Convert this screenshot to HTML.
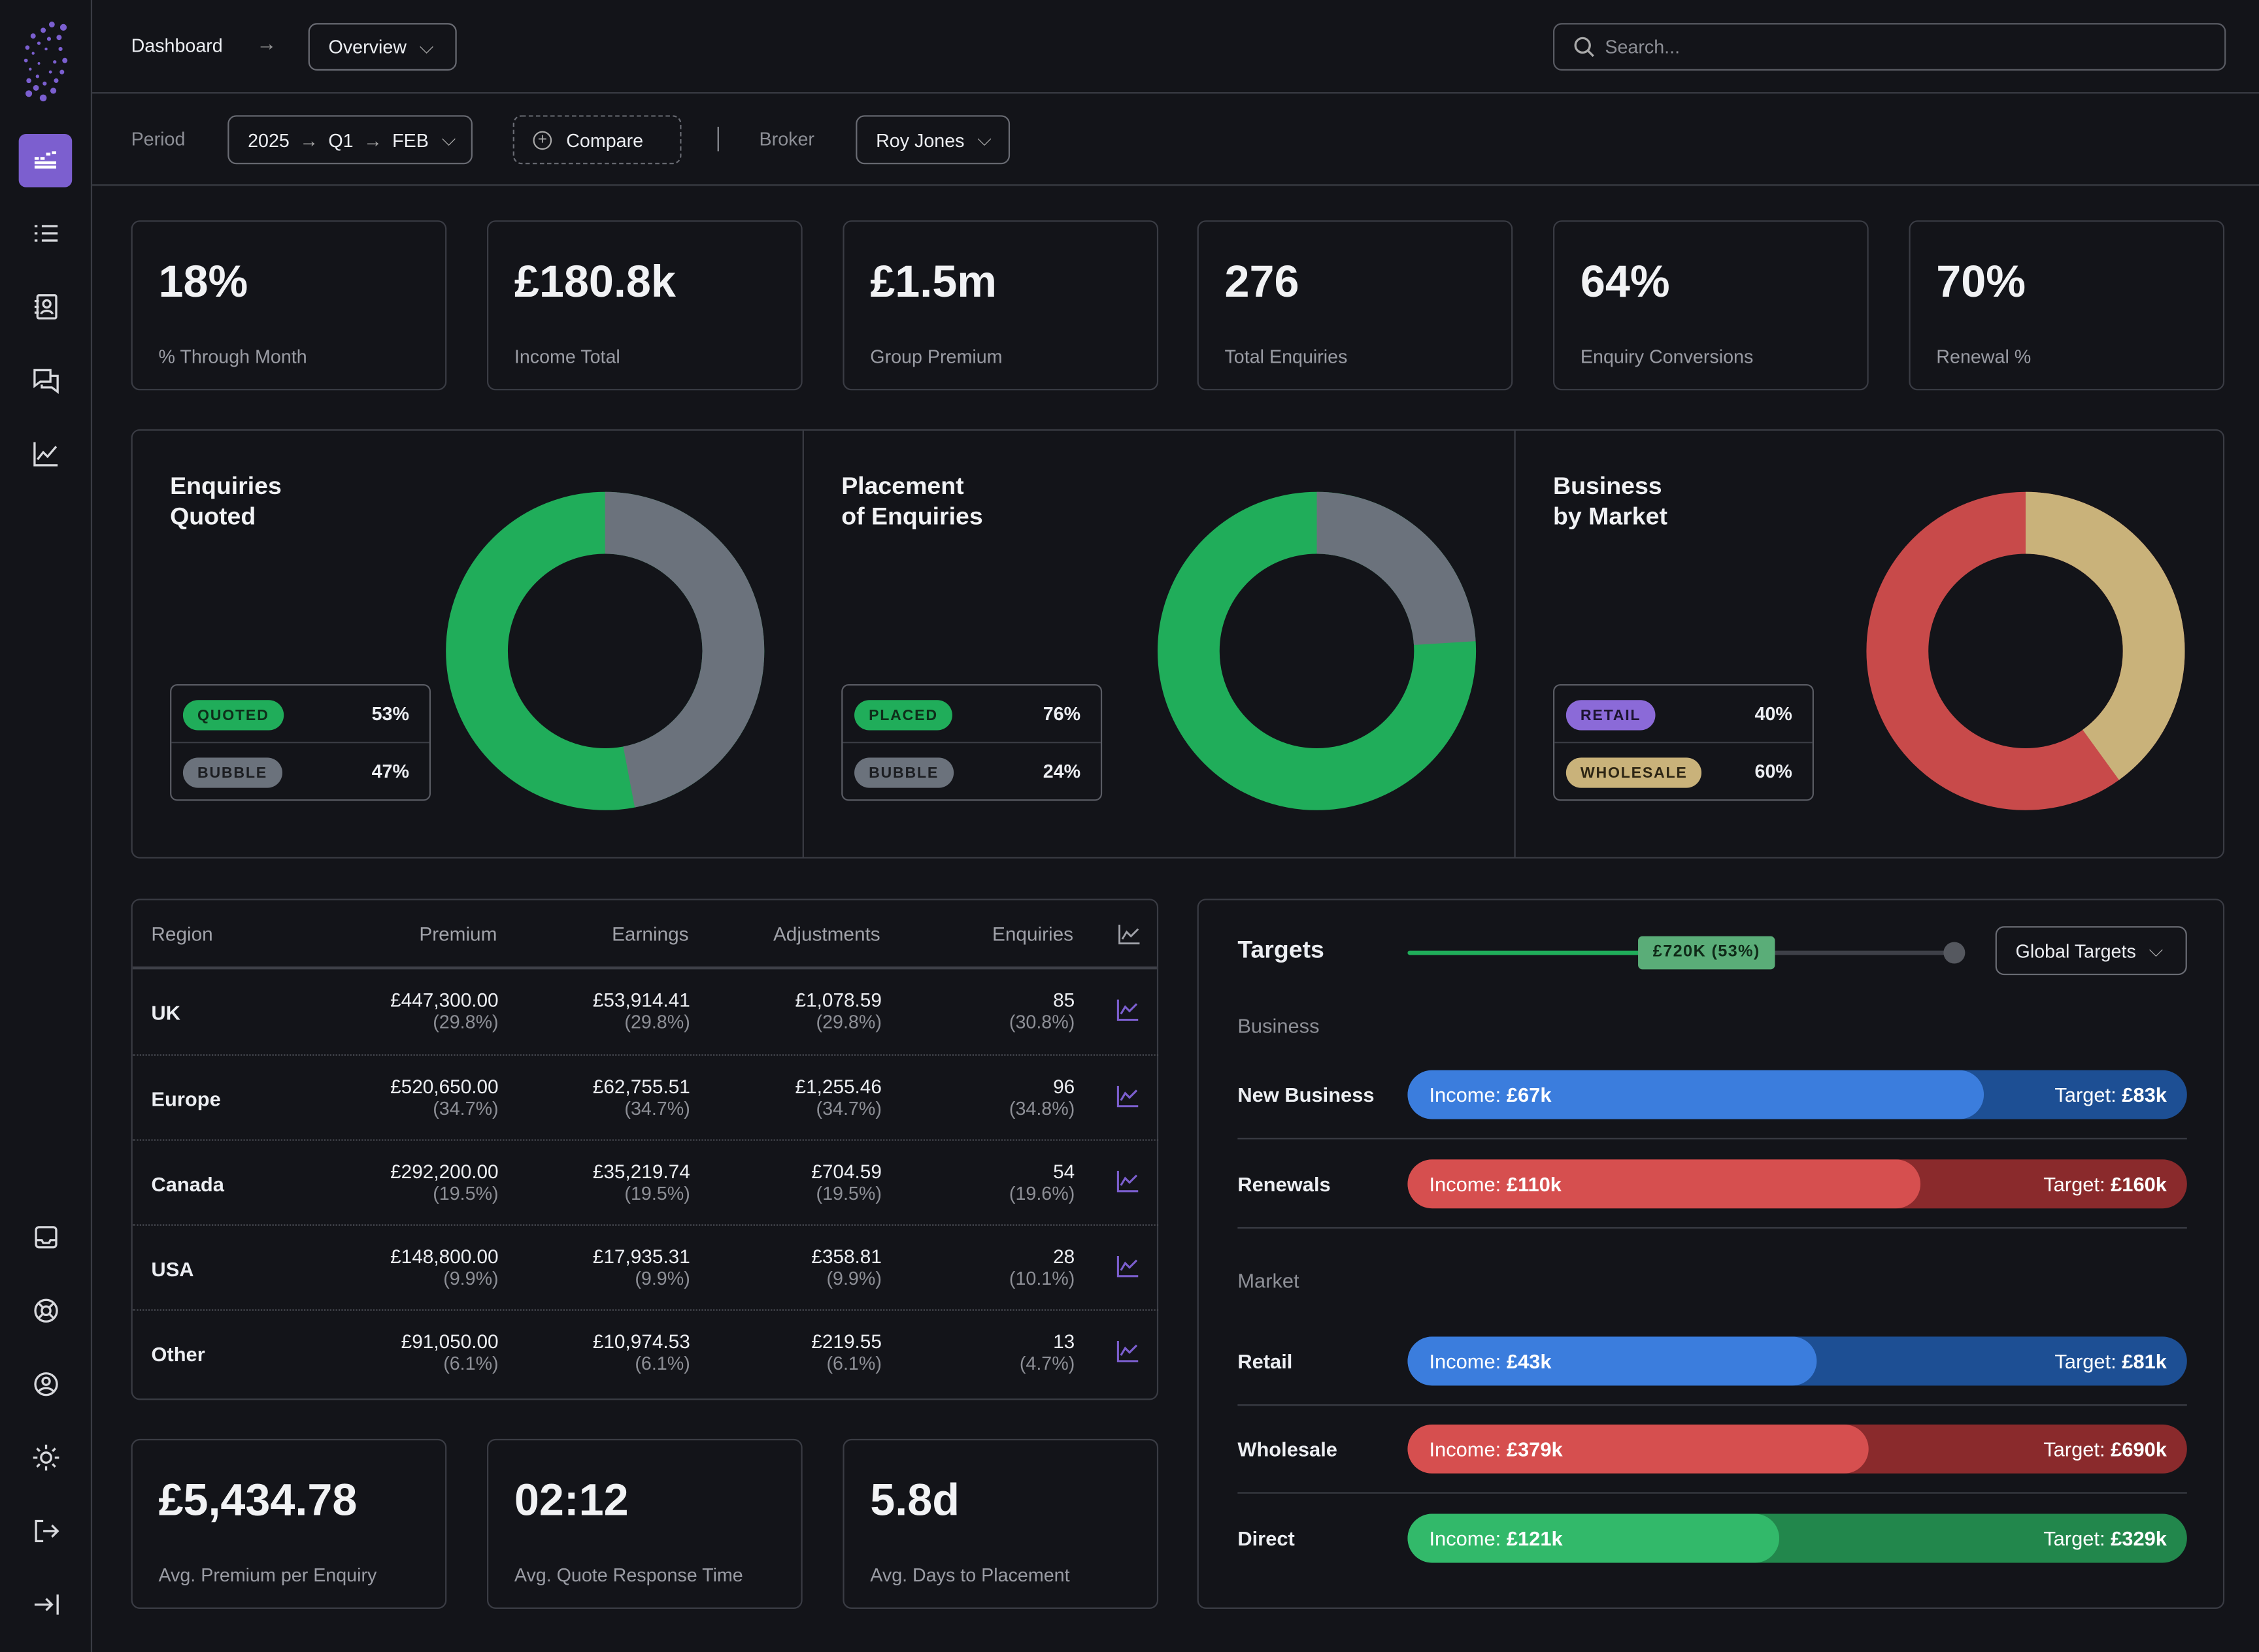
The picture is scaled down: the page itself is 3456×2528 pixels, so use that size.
<!DOCTYPE html>
<html><head><meta charset="utf-8"><style>
*{box-sizing:border-box;margin:0;padding:0}
html,body{width:3456px;height:2528px;background:#131419;overflow:hidden}
#s{position:absolute;left:0;top:0;width:1568px;height:1147px;transform:scale(2.2041);transform-origin:0 0;font-family:"Liberation Sans",sans-serif;color:#eceef2;background:#131419}
.a{position:absolute}
.bx{position:absolute;border:1px solid #3a3c44;border-radius:6px}
.kv{position:absolute;left:18px;top:24px;font-size:31px;font-weight:600;color:#f1f2f4}
.kl{position:absolute;left:18px;top:86px;font-size:13px;color:#9a9ca4}
.btn{position:absolute;border:1px solid #6a6c74;border-radius:6px;font-size:13px;color:#eceef2;display:flex;align-items:center;padding-left:13px}
.t{font-size:17px;font-weight:700;line-height:21px;color:#f1f2f4}
.lg{position:absolute;width:181px;height:81px;border:1px solid #5a5c64;border-radius:5px}
.lg .r{position:absolute;left:0;width:100%;height:40px}
.pill{position:absolute;left:8px;top:10px;height:21px;border-radius:11px;font-size:10.5px;font-weight:700;letter-spacing:.8px;display:flex;align-items:center;padding:0 10px}
.pv{position:absolute;right:14px;top:12px;font-size:13px;font-weight:700}
.th{position:absolute;top:16px;font-size:13.5px;color:#a0a2a9}
.row{position:absolute;left:0;width:712px;height:59px;border-top:1px dotted #4a4c54}
.rn{position:absolute;left:13px;top:22px;font-size:14px;font-weight:700}
.c{position:absolute;text-align:right;font-size:13.5px;line-height:15px;top:14px}
.c span{color:#8d8f96;display:block;font-size:13px}
.ic{position:absolute;left:684px;top:20px}
.bar{position:absolute;left:145px;width:541px;height:34px;border-radius:17px;overflow:hidden;font-size:14px}
.bar .f{position:absolute;left:0;top:0;height:34px;border-radius:17px}
.bar .l{position:absolute;left:15px;top:9px;color:#fff}
.bar .rt{position:absolute;right:14px;top:9px;color:#fff}
.tl{position:absolute;left:27px;font-size:14px;font-weight:600}
.sep{position:absolute;left:27px;width:659px;height:1px;background:#3a3c44}
.si{position:absolute;left:22px;width:20px;height:20px}
</style></head><body><div id="s">
<!-- sidebar -->
<div class="a" style="left:63px;top:0;width:1px;height:1147px;background:#3a3c44"></div>
<svg class="a" style="left:12px;top:14px" width="40" height="58">
<g fill="#7b5fd0">
<circle cx="32" cy="5" r="2.3"/><circle cx="24" cy="3" r="2"/><circle cx="18" cy="7" r="1.8"/><circle cx="29" cy="12" r="1.8"/><circle cx="11" cy="11" r="1.8"/><circle cx="22" cy="13" r="1.4"/><circle cx="15" cy="16" r="1.2"/><circle cx="7" cy="19" r="1.5"/><circle cx="30" cy="20" r="1.4"/><circle cx="20" cy="20" r="1"/><circle cx="11" cy="23" r="1"/><circle cx="6" cy="28" r="1.3"/><circle cx="33" cy="28" r="1.8"/><circle cx="26" cy="29" r="1.2"/><circle cx="15" cy="30" r="0.9"/><circle cx="9" cy="34" r="1"/><circle cx="31" cy="36" r="1.6"/><circle cx="23" cy="36" r="1.1"/><circle cx="14" cy="39" r="1.2"/><circle cx="8" cy="42" r="1.7"/><circle cx="27" cy="42" r="1.6"/><circle cx="19" cy="44" r="1.4"/><circle cx="13" cy="47" r="2"/><circle cx="25" cy="49" r="2.1"/><circle cx="8" cy="51" r="2.3"/><circle cx="18" cy="54" r="2.4"/></g></svg>
<div class="a" style="left:13px;top:93px;width:37px;height:37px;border-radius:5px;background:#7c5fcf"></div>
<svg class="a" style="left:23px;top:103px" width="17" height="17" fill="#fff"><rect x="1" y="6" width="3" height="2"/><rect x="5" y="6" width="3" height="2"/><rect x="9" y="3" width="3" height="2"/><rect x="13" y="2" width="3" height="2"/><rect x="1" y="9" width="15" height="2"/><rect x="1" y="12" width="15" height="2"/></svg>
<svg class="a" style="left:22px;top:152px" width="20" height="20" stroke="#d8d9dd" stroke-width="1.5" fill="none"><path d="M7 5h11M7 10h11M7 15h11M2 5h2M2 10h2M2 15h2"/></svg>
<svg class="a" style="left:22px;top:203px" width="20" height="20" stroke="#d8d9dd" stroke-width="1.5" fill="none"><rect x="4" y="2" width="13" height="16" rx="1"/><circle cx="10.5" cy="8" r="2.5"/><path d="M6.5 15c1-3 7-3 8 0M2 6h3M2 10h3M2 14h3"/></svg>
<svg class="a" style="left:22px;top:254px" width="20" height="20" stroke="#d8d9dd" stroke-width="1.5" fill="none"><path d="M2 3h11v8H6l-4 3zM7 13v2h7l4 3V7h-5"/></svg>
<svg class="a" style="left:22px;top:305px" width="20" height="20" stroke="#d8d9dd" stroke-width="1.5" fill="none"><path d="M2 2v16h16M4 14l4-5 3 3 6-7"/></svg>
<svg class="a" style="left:22px;top:849px" width="20" height="20" stroke="#d8d9dd" stroke-width="1.5" fill="none"><rect x="3" y="3" width="14" height="14" rx="2"/><path d="M3 12h4l1 2h4l1-2h4"/></svg>
<svg class="a" style="left:22px;top:900px" width="20" height="20" stroke="#d8d9dd" stroke-width="1.5" fill="none"><circle cx="10" cy="10" r="7.5"/><circle cx="10" cy="10" r="3"/><path d="M5 5l3 3M15 5l-3 3M5 15l3-3M15 15l-3-3"/></svg>
<svg class="a" style="left:22px;top:951px" width="20" height="20" stroke="#d8d9dd" stroke-width="1.5" fill="none"><circle cx="10" cy="10" r="7.5"/><circle cx="10" cy="8" r="2.5"/><path d="M5 15c2-3 8-3 10 0"/></svg>
<svg class="a" style="left:22px;top:1002px" width="20" height="20" stroke="#d8d9dd" stroke-width="1.5" fill="none"><circle cx="10" cy="10" r="3.5"/><path d="M10 1v3M10 16v3M1 10h3M16 10h3M3.6 3.6l2 2M14.4 14.4l2 2M3.6 16.4l2-2M14.4 5.6l2-2"/></svg>
<svg class="a" style="left:22px;top:1053px" width="20" height="20" stroke="#d8d9dd" stroke-width="1.5" fill="none"><path d="M8 3H3v14h5M8 10h10M14 6l4 4-4 4"/></svg>
<svg class="a" style="left:22px;top:1104px" width="20" height="20" stroke="#d8d9dd" stroke-width="1.5" fill="none"><path d="M2 10h12M10 6l4 4-4 4M18 3v14"/></svg>
<!-- top bars -->
<div class="a" style="left:64px;top:64px;width:1504px;height:1px;background:#3a3c44"></div>
<div class="a" style="left:64px;top:128px;width:1504px;height:1px;background:#3a3c44"></div>
<div class="a" style="left:91px;top:24px;font-size:13px">Dashboard</div>
<div class="a" style="left:178px;top:22px;font-size:14px;color:#999">→</div>
<div class="btn" style="left:214px;top:16px;width:103px;height:33px">Overview <span style="margin-left:9px;color:#aaa">⌵</span></div>
<div class="btn" style="left:1078px;top:16px;width:467px;height:33px;color:#8d8f96;border-color:#5a5c64"><svg width="15" height="15" stroke="#aaa" fill="none" stroke-width="1.5" style="margin-right:7px"><circle cx="6.5" cy="6.5" r="5"/><path d="M10 10l4 4"/></svg>Search...</div>
<div class="a" style="left:91px;top:89px;font-size:13px;color:#8d8f96">Period</div>
<div class="btn" style="left:158px;top:80px;width:170px;height:34px">2025 <span style="margin:0 7px;color:#aaa">→</span> Q1 <span style="margin:0 7px;color:#aaa">→</span> FEB <span style="margin-left:9px;color:#aaa">⌵</span></div>
<div class="btn" style="left:356px;top:80px;width:117px;height:34px;border:1px dashed #6a6c74"><span style="display:inline-block;width:13px;height:13px;border:1px solid #aaa;border-radius:50%;font-size:11px;line-height:11px;text-align:center;color:#aaa;margin-right:10px">+</span>Compare</div>
<div class="a" style="left:498px;top:88px;width:1px;height:17px;background:#8d8f96"></div>
<div class="a" style="left:527px;top:89px;font-size:13px;color:#8d8f96">Broker</div>
<div class="btn" style="left:594px;top:80px;width:107px;height:34px">Roy Jones <span style="margin-left:9px;color:#aaa">⌵</span></div>
<!-- KPI -->
<div class="bx" style="left:91px;top:153px;width:219px;height:118px"><div class="kv">18%</div><div class="kl">% Through Month</div></div>
<div class="bx" style="left:338px;top:153px;width:219px;height:118px"><div class="kv">£180.8k</div><div class="kl">Income Total</div></div>
<div class="bx" style="left:585px;top:153px;width:219px;height:118px"><div class="kv">£1.5m</div><div class="kl">Group Premium</div></div>
<div class="bx" style="left:831px;top:153px;width:219px;height:118px"><div class="kv">276</div><div class="kl">Total Enquiries</div></div>
<div class="bx" style="left:1078px;top:153px;width:219px;height:118px"><div class="kv">64%</div><div class="kl">Enquiry Conversions</div></div>
<div class="bx" style="left:1325px;top:153px;width:219px;height:118px"><div class="kv">70%</div><div class="kl">Renewal %</div></div>
<!-- donuts -->
<div class="bx" style="left:91px;top:298px;width:1453px;height:298px"></div>
<div class="a" style="left:557px;top:299px;width:1px;height:296px;background:#3a3c44"></div>
<div class="a" style="left:1051px;top:299px;width:1px;height:296px;background:#3a3c44"></div>
<div class="a t" style="left:118px;top:327px">Enquiries<br>Quoted</div>
<div class="a t" style="left:584px;top:327px">Placement<br>of Enquiries</div>
<div class="a t" style="left:1078px;top:327px">Business<br>by Market</div>
<svg class="a" style="left:0;top:0" width="1568" height="700" fill="none" stroke-width="43">
<g transform="rotate(-90 420 452)"><circle cx="420" cy="452" r="89" stroke="#20ad5a"/><circle cx="420" cy="452" r="89" stroke="#6b727c" stroke-dasharray="262.8 600"/></g>
<g transform="rotate(-90 914 452)"><circle cx="914" cy="452" r="89" stroke="#20ad5a"/><circle cx="914" cy="452" r="89" stroke="#6b727c" stroke-dasharray="134.2 600"/></g>
<g transform="rotate(-90 1406 452)"><circle cx="1406" cy="452" r="89" stroke="#c84a4a"/><circle cx="1406" cy="452" r="89" stroke="#c9b27a" stroke-dasharray="223.7 600"/></g>
</svg>
<div class="lg" style="left:118px;top:475px"><div class="r" style="top:0;border-bottom:1px solid #3a3c44"><div class="pill" style="background:#20ad5a;color:#0e2e1a">QUOTED</div><div class="pv">53%</div></div><div class="r" style="top:40px"><div class="pill" style="background:#6b727c;color:#1c1e22">BUBBLE</div><div class="pv">47%</div></div></div>
<div class="lg" style="left:584px;top:475px"><div class="r" style="top:0;border-bottom:1px solid #3a3c44"><div class="pill" style="background:#20ad5a;color:#0e2e1a">PLACED</div><div class="pv">76%</div></div><div class="r" style="top:40px"><div class="pill" style="background:#6b727c;color:#1c1e22">BUBBLE</div><div class="pv">24%</div></div></div>
<div class="lg" style="left:1078px;top:475px"><div class="r" style="top:0;border-bottom:1px solid #3a3c44"><div class="pill" style="background:#8b6ad8;color:#1c1430">RETAIL</div><div class="pv">40%</div></div><div class="r" style="top:40px"><div class="pill" style="background:#c9b27a;color:#2e2614">WHOLESALE</div><div class="pv">60%</div></div></div>
<!-- table -->
<div class="bx" style="left:91px;top:624px;width:713px;height:348px">
<div class="th" style="left:13px">Region</div>
<div class="th" style="right:458px">Premium</div>
<div class="th" style="right:325px">Earnings</div>
<div class="th" style="right:192px">Adjustments</div>
<div class="th" style="right:58px">Enquiries</div>
<svg class="ic" style="top:16px" width="16" height="16" stroke="#a0a2a9" fill="none" stroke-width="1.3"><path d="M1 1v13h14M3 11l3-5 3 3 5-5"/></svg>
<div class="a" style="left:0;top:46px;width:711px;height:2px;background:#3e4048"></div>
<div class="row" style="top:48px;border-top:none"><div class="rn">UK</div><div class="c" style="right:458px">£447,300.00<span>(29.8%)</span></div><div class="c" style="right:325px">£53,914.41<span>(29.8%)</span></div><div class="c" style="right:192px">£1,078.59<span>(29.8%)</span></div><div class="c" style="right:58px">85<span>(30.8%)</span></div></div>
<div class="row" style="top:107px"><div class="rn">Europe</div><div class="c" style="right:458px">£520,650.00<span>(34.7%)</span></div><div class="c" style="right:325px">£62,755.51<span>(34.7%)</span></div><div class="c" style="right:192px">£1,255.46<span>(34.7%)</span></div><div class="c" style="right:58px">96<span>(34.8%)</span></div></div>
<div class="row" style="top:166px"><div class="rn">Canada</div><div class="c" style="right:458px">£292,200.00<span>(19.5%)</span></div><div class="c" style="right:325px">£35,219.74<span>(19.5%)</span></div><div class="c" style="right:192px">£704.59<span>(19.5%)</span></div><div class="c" style="right:58px">54<span>(19.6%)</span></div></div>
<div class="row" style="top:225px"><div class="rn">USA</div><div class="c" style="right:458px">£148,800.00<span>(9.9%)</span></div><div class="c" style="right:325px">£17,935.31<span>(9.9%)</span></div><div class="c" style="right:192px">£358.81<span>(9.9%)</span></div><div class="c" style="right:58px">28<span>(10.1%)</span></div></div>
<div class="row" style="top:284px"><div class="rn">Other</div><div class="c" style="right:458px">£91,050.00<span>(6.1%)</span></div><div class="c" style="right:325px">£10,974.53<span>(6.1%)</span></div><div class="c" style="right:192px">£219.55<span>(6.1%)</span></div><div class="c" style="right:58px">13<span>(4.7%)</span></div></div>
</div>
<svg class="a" style="left:0;top:0" width="820" height="1000" stroke="#7c5fcf" fill="none" stroke-width="1.4">
<path d="M776 694v14h14M778 704l3-5 3 3 5-5"/><path d="M776 754v14h14M778 764l3-5 3 3 5-5"/><path d="M776 813v14h14M778 823l3-5 3 3 5-5"/><path d="M776 872v14h14M778 882l3-5 3 3 5-5"/><path d="M776 931v14h14M778 941l3-5 3 3 5-5"/></svg>
<!-- bottom KPI -->
<div class="bx" style="left:91px;top:999px;width:219px;height:118px"><div class="kv">£5,434.78</div><div class="kl">Avg. Premium per Enquiry</div></div>
<div class="bx" style="left:338px;top:999px;width:219px;height:118px"><div class="kv">02:12</div><div class="kl">Avg. Quote Response Time</div></div>
<div class="bx" style="left:585px;top:999px;width:219px;height:118px"><div class="kv">5.8d</div><div class="kl">Avg. Days to Placement</div></div>
<!-- targets -->
<div class="bx" style="left:831px;top:624px;width:713px;height:493px">
<div class="a" style="left:27px;top:25px;font-size:17px;font-weight:700">Targets</div>
<div class="a" style="left:145px;top:35px;width:170px;height:3px;background:#20ad5a;border-radius:2px"></div>
<div class="a" style="left:315px;top:35px;width:210px;height:3px;background:#3e4048"></div>
<div class="a" style="left:517px;top:29px;width:15px;height:15px;border-radius:50%;background:#55585f"></div>
<div class="a" style="left:305px;top:25px;width:95px;height:23px;border-radius:3px;background:#5aad78;color:#0f2a18;font-size:11.5px;font-weight:600;letter-spacing:.6px;text-align:center;line-height:23px">£720K (53%)</div>
<div class="btn" style="left:553px;top:18px;width:133px;height:34px">Global Targets <span style="margin-left:9px;color:#aaa">⌵</span></div>
<div class="a" style="left:27px;top:79px;font-size:14px;color:#8d8f96">Business</div>
<div class="tl" style="top:127px">New Business</div>
<div class="bar" style="top:118px;background:#1d4f94"><div class="f" style="width:400px;background:#3b7ddd"></div><div class="l">Income: <b>£67k</b></div><div class="rt">Target: <b>£83k</b></div></div>
<div class="sep" style="top:165px"></div>
<div class="tl" style="top:189px">Renewals</div>
<div class="bar" style="top:180px;background:#8a2a2c"><div class="f" style="width:356px;background:#d64f4f"></div><div class="l">Income: <b>£110k</b></div><div class="rt">Target: <b>£160k</b></div></div>
<div class="sep" style="top:227px"></div>
<div class="a" style="left:27px;top:256px;font-size:14px;color:#8d8f96">Market</div>
<div class="tl" style="top:312px">Retail</div>
<div class="bar" style="top:303px;background:#1d4f94"><div class="f" style="width:284px;background:#3b7ddd"></div><div class="l">Income: <b>£43k</b></div><div class="rt">Target: <b>£81k</b></div></div>
<div class="sep" style="top:350px"></div>
<div class="tl" style="top:373px">Wholesale</div>
<div class="bar" style="top:364px;background:#8a2a2c"><div class="f" style="width:320px;background:#d64f4f"></div><div class="l">Income: <b>£379k</b></div><div class="rt">Target: <b>£690k</b></div></div>
<div class="sep" style="top:411px"></div>
<div class="tl" style="top:435px">Direct</div>
<div class="bar" style="top:426px;background:#22874c"><div class="f" style="width:258px;background:#32b96a"></div><div class="l">Income: <b>£121k</b></div><div class="rt">Target: <b>£329k</b></div></div>
</div>
</div></body></html>
